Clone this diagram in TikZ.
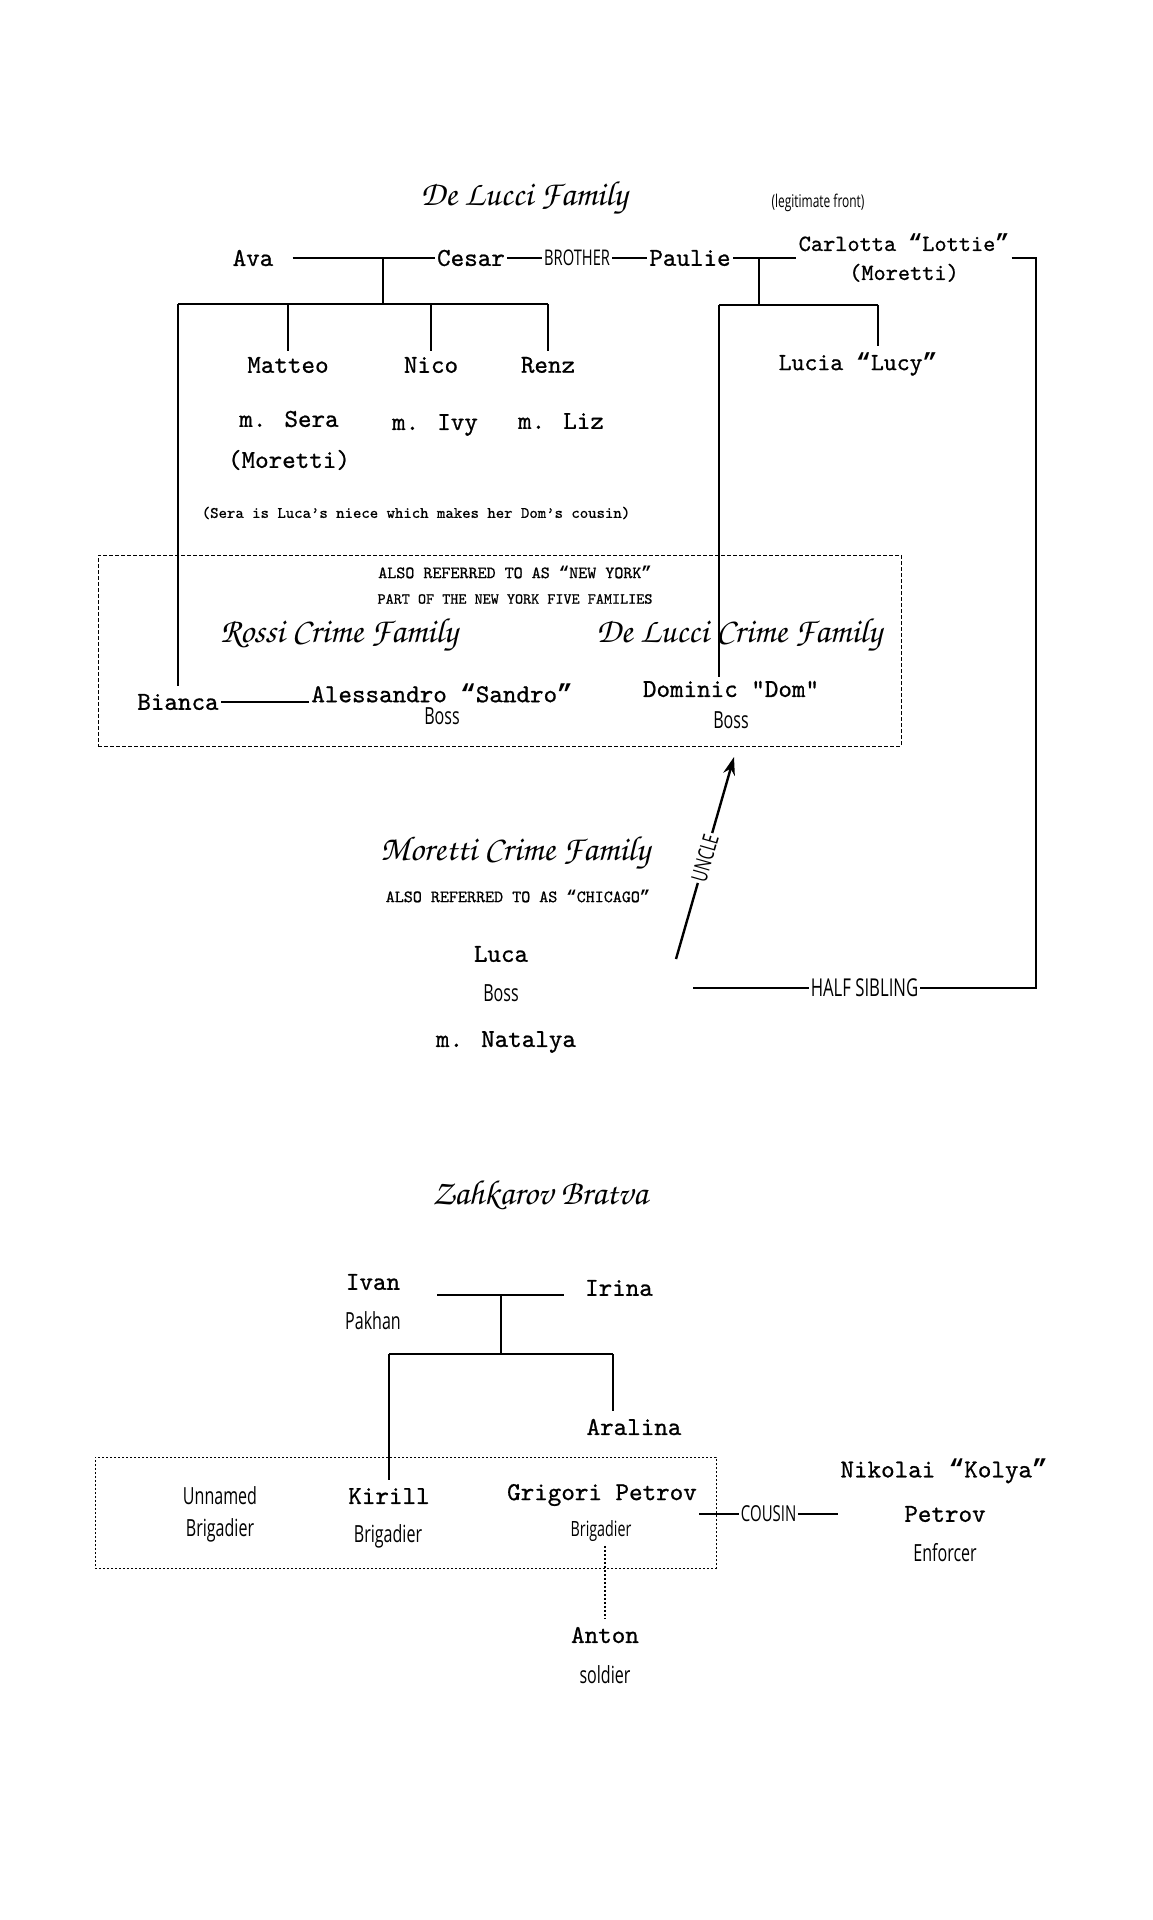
\documentclass[tikz,border=0pt]{standalone}
\usepackage{fontspec}
\usetikzlibrary{arrows.meta,calc}
\newfontfamily\namef{lmmono10-regular}[Extension=.otf,FakeBold=0.8]
\newfontfamily\quotef{Liberation Mono}
\newfontfamily\condf{Open Sans}[FakeStretch=0.68]
\newfontfamily\scriptf{texgyrechorus-mediumitalic}[Extension=.otf]
\newcommand\myoq{{\quotef\bfseries “}}
\newcommand\mycq{{\quotef\bfseries ”}}
\tikzset{
  nm/.style={font={\namef\fontsize{12.9pt}{15pt}\selectfont}, inner sep=1pt},
  nmsmall/.style={font={\namef\fontsize{11.6pt}{14.5pt}\selectfont}, inner sep=1pt, align=center},
  caps/.style={font={\namef\fontsize{8.6pt}{10pt}\selectfont}, inner sep=1pt},
  role/.style={font={\condf\fontsize{11.8pt}{13pt}\selectfont}, inner sep=1pt},
  ttl/.style={font={\scriptf\fontsize{17.4pt}{21pt}\selectfont}, inner sep=0pt},
  ln/.style={line width=0.9pt},
  lbl/.style={fill=white, inner xsep=3pt, inner ysep=1pt},
}
\begin{document}
\begin{tikzpicture}[x=0.5pt,y=-0.5pt]
\useasboundingbox[fill=white] (0,0) rectangle (1152,1920);

% ---------- De Lucci family ----------
\node[ttl] (tDeLucci) at (524,198) {De Lucci Family};
\node[role, font={\condf\fontsize{8.8pt}{10pt}\selectfont}] (legit) at (818,203) {(legitimate front)};
\node[nm] (ava) at (253,258) {Ava};
\node[nm] (cesar) at (471,258) {Cesar};
\node[nm] (paulie) at (690,258) {Paulie};
\node[nmsmall] (carlotta) at (904,258) {Carlotta \myoq Lottie\mycq\\(Moretti)};

\node[nm] (matteo) at (288,365) {Matteo};
\node[nm] (nico) at (431,365) {Nico};
\node[nm] (renz) at (548,365) {Renz};
\node[nm, font={\namef\fontsize{12.3pt}{14.5pt}\selectfont}] (lucy) at (858,364) {Lucia \myoq Lucy\mycq};
\node[nm] (sera) at (289,419) {m. Sera};
\node[nm] (seraM) at (289,460) {(Moretti)};
\node[nm] (ivy) at (435,425) {m. Ivy};
\node[nm] (liz) at (561,421) {m. Liz};
\node[caps, font={\namef\fontsize{8pt}{10pt}\selectfont}] (note) at (416,513) {(Sera is Luca’s niece which makes her Dom’s cousin)};

% ---------- New York box ----------
\node[draw, dash pattern=on 2pt off 1pt, line width=0.5pt, minimum width=401.5pt, minimum height=95.5pt, inner sep=0pt] (nybox) at (499.5,650.5) {};
\node[caps] (aka) at (515,572) {ALSO REFERRED TO AS \myoq NEW YORK\mycq};
\node[caps, font={\namef\fontsize{7.7pt}{10pt}\selectfont}] (five) at (515,599) {PART OF THE NEW YORK FIVE FAMILIES};
\node[ttl] (tRossi) at (339,635) {Rossi Crime Family};
\node[ttl] (tDLC) at (739,635) {De Lucci Crime Family};
\node[nm] (bianca) at (178,702) {Bianca};
\node[nm] (sandro) at (442,693) {Alessandro \myoq Sandro\mycq};
\node[role] (sandroR) at (442,716) {Boss};
\node[nm] (dominic) at (731,689) {Dominic "Dom"};
\node[role] (dominicR) at (731,720) {Boss};

% ---------- Moretti ----------
\node[ttl] (tMoretti) at (515,853) {Moretti Crime Family};
\node[caps] (chicago) at (518,896) {ALSO REFERRED TO AS \myoq CHICAGO\mycq};
\node[nm] (luca) at (501,954) {Luca};
\node[role] (lucaR) at (501,993) {Boss};
\node[nm] (natalya) at (506,1042) {m. Natalya};

% ---------- connectors (top) ----------
\coordinate (acJ) at (383,258);
\coordinate (acBar) at (383,304);
\draw[ln] ($(ava.east)+(17,0)$) -- (cesar.west);
\draw[ln] (acJ) -- (acBar);
\draw[ln] (bianca.north |- acBar) -- (renz.north |- acBar);
\draw[ln] (bianca.north |- acBar) -- ($(bianca.north)+(0,-6)$);
\draw[ln] (matteo.north |- acBar) -- ($(matteo.north)+(0,-4)$);
\draw[ln] (nico.north |- acBar) -- ($(nico.north)+(0,-4)$);
\draw[ln] (renz.north |- acBar) -- ($(renz.north)+(0,-4)$);

\draw[ln] (cesar.east) -- node[lbl, role, font={\condf\fontsize{10.8pt}{12pt}\selectfont}] {BROTHER} (paulie.west);
\draw[ln] (paulie.east) -- (paulie.east -| carlotta.west);

\coordinate (pcJ) at (759,258);
\coordinate (pcBar) at (759,305);
\coordinate (lucyDrop) at ($(lucy.north)+(20,-4)$);
\coordinate (domDrop) at ($(dominic.north)+(-12,-2)$);
\draw[ln] (pcJ) -- (pcBar);
\draw[ln] (domDrop |- pcBar) -- (lucyDrop |- pcBar);
\draw[ln] (lucyDrop |- pcBar) -- (lucyDrop);
\draw[ln] (domDrop |- pcBar) -- (domDrop);

\draw[ln] (bianca.east) -- (bianca.east -| sandro.west);

\coordinate (hsEnd) at (693,988);
\draw[ln] (carlotta.east) -| (1036,988) -- node[lbl, role, font={\condf\fontsize{12.3pt}{14pt}\selectfont}] {HALF SIBLING} (hsEnd);

\coordinate (uncleStart) at (676,959);
\coordinate (uncleTip) at (734,757);
\draw[line width=1.2pt, -{Stealth[length=9pt,width=6pt]}] (uncleStart) -- node[lbl, sloped, role, font={\condf\fontsize{11pt}{12pt}\selectfont}] {UNCLE} (uncleTip);

% ---------- Zahkarov Bratva ----------
\node[ttl] (tZah) at (540,1195) {Zahkarov Bratva};
\node[nm] (ivan) at (373,1282) {Ivan};
\node[role] (ivanR) at (373,1321) {Pakhan};
\node[nm] (irina) at (619,1288) {Irina};
\node[nm] (aralina) at (634,1427) {Aralina};

\node[draw, dash pattern=on 1.2pt off 0.8pt, line width=0.5pt, minimum width=310.5pt, minimum height=55.5pt, inner sep=0pt] (brigbox) at (405.5,1512.5) {};
\node[role] (unnamed) at (220,1496) {Unnamed};
\node[role] (unnamedR) at (220,1530) {Brigadier};
\node[nm] (kirill) at (389,1496) {Kirill};
\node[role] (kirillR) at (388,1536) {Brigadier};
\node[nm] (grigori) at (602,1495) {Grigori Petrov};
\node[role, font={\condf\fontsize{10.5pt}{12pt}\selectfont}] (grigoriR) at (601,1531) {Brigadier};
\node[nm] (nikolai) at (944,1471) {Nikolai \myoq Kolya\mycq};
\node[nm] (petrov) at (945,1514) {Petrov};
\node[role] (petrovR) at (945,1553) {Enforcer};
\node[nm] (anton) at (605,1635) {Anton};
\node[role] (antonR) at (605,1675) {soldier};

\coordinate (iiL) at (437,1295);
\coordinate (iiR) at (564,1295);
\coordinate (iiJ) at (501,1295);
\coordinate (iiBar) at (501,1354);
\draw[ln] (iiL) -- (iiR);
\draw[ln] (iiJ) -- (iiBar);
\coordinate (araDrop) at ($(aralina.north)+(-21,-6)$);
\draw[ln] (kirill.north |- iiBar) -- (araDrop |- iiBar);
\draw[ln] (araDrop |- iiBar) -- (araDrop);
\draw[ln] (kirill.north |- iiBar) -- ($(kirill.north)+(0,-6)$);

\draw[ln] (grigori.east |- petrov) -- node[lbl, role, font={\condf\fontsize{11pt}{12pt}\selectfont}] {COUSIN} (nikolai.west |- petrov);
\draw[line width=0.7pt, dash pattern=on 1pt off 1pt] ($(grigoriR.south)+(4,2)$) -- ($(anton.north)+(0,-6)$);

\end{tikzpicture}
\end{document}
